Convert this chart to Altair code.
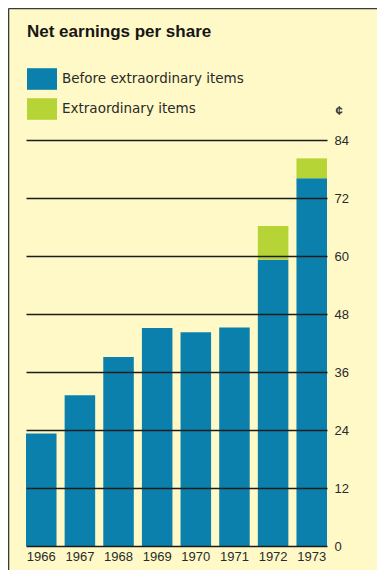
import altair as alt
import pandas as pd

years = ["1966", "1967", "1968", "1969", "1970", "1971", "1972", "1973"]
before_items = [23.3, 31.2, 39.1, 45.1, 44.2, 45.2, 59.2, 76.1]
extra_items = [0.0, 0.0, 0.0, 0.0, 0.0, 0.0, 7.0, 4.1]
series_names = ["Before extraordinary items", "Extraordinary items"]
series_colors = ["#0b80ad", "#b7d436"]
y_ticks = [0, 12, 24, 36, 48, 60, 72, 84]
title_text = "Net earnings per share"
unit_text = "¢"

rows = []
for i, yr in enumerate(years):
    rows.append({"year": yr, "series": series_names[0], "value": before_items[i], "ord": 0})
    rows.append({"year": yr, "series": series_names[1], "value": extra_items[i], "ord": 1})
df = pd.DataFrame(rows)

W, H = 301, 406
PAD_L, PAD_T = 18, 132

symbol_path = "M-1,-0.72H1V0.72H-1Z"

bars = alt.Chart(df).mark_bar().encode(
    x=alt.X("year:N", sort=years,
            scale=alt.Scale(paddingInner=0.21, paddingOuter=0),
            axis=alt.Axis(title=None, labelAngle=0, domain=False, ticks=False,
                          labelPadding=4, labelFont="Liberation Sans", labelFontSize=13,
                          labelColor="#2a2a2a")),
    y=alt.Y("value:Q", stack="zero",
            scale=alt.Scale(domain=[0, 84], nice=False, zero=True),
            axis=alt.Axis(orient="right", values=y_ticks, title=unit_text,
                          titleAngle=0, titleAlign="left", titleBaseline="middle",
                          titleX=8, titleY=-30, titleFont="Liberation Sans",
                          titleFontSize=13, titleFontWeight="bold", titleColor="#333333",
                          labelFont="Liberation Sans", labelFontSize=13, labelColor="#2a2a2a",
                          labelPadding=7, labelBaseline="middle",
                          domain=False, ticks=False, grid=True, gridColor="#1c1c1c",
                          gridWidth=1.3, gridOpacity=1, zindex=1)),
    color=alt.Color("series:N", sort=series_names,
                    scale=alt.Scale(domain=series_names, range=series_colors),
                    legend=alt.Legend(title=None, orient="none", legendX=1, legendY=-76,
                                      symbolType=symbol_path, symbolSize=900,
                                      symbolStrokeWidth=0, symbolOpacity=1,
                                      labelFont="DejaVu Sans", labelFontSize=13.5,
                                      labelColor="#2a2a2a", labelOffset=5,
                                      labelLimit=0,
                                      rowPadding=4, padding=0)),
    order=alt.Order("ord:Q"),
)

title_df = pd.DataFrame({"t": [title_text]})
title_mark = alt.Chart(title_df).mark_text(
    align="left", baseline="alphabetic", font="Liberation Sans",
    fontSize=17, fontWeight="bold", color="#161616"
).encode(text="t:N", x=alt.value(1), y=alt.value(-103))

frame_df = pd.DataFrame({"k": [1]})
frame_top = alt.Chart(frame_df).mark_rule(color="#3a3a3a", strokeWidth=1.6).encode(
    x=alt.value(-PAD_L + 0.5), x2=alt.value(W + 60), y=alt.value(-PAD_T + 0.5))
frame_left = alt.Chart(frame_df).mark_rule(color="#3a3a3a", strokeWidth=1.6).encode(
    x=alt.value(-PAD_L + 0.5), y=alt.value(-PAD_T + 0.5), y2=alt.value(H + 30))

chart = alt.layer(bars, title_mark, frame_top, frame_left).properties(
    width=W, height=H,
    autosize=alt.AutoSizeParams(type="none"),
    padding={"left": PAD_L, "top": PAD_T, "right": 50, "bottom": 24},
).configure(background="#fef9c6").configure_view(stroke=None)

chart.save("out.html", embed_options={"renderer": "svg", "actions": False})
